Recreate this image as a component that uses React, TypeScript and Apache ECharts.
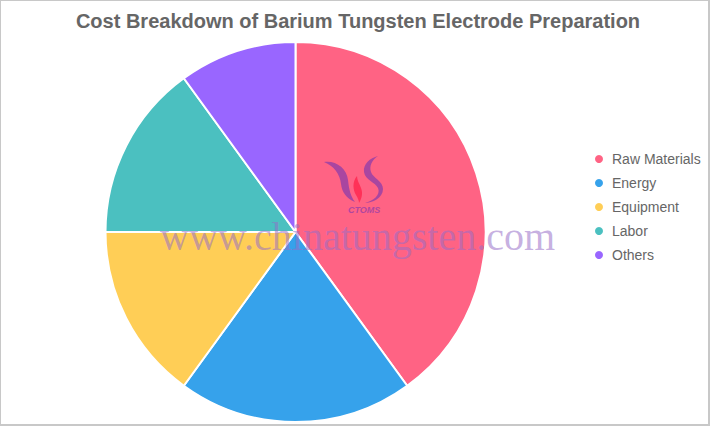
import React, { useEffect, useRef } from 'react';
import * as echarts from 'echarts';

const categories = ['Raw Materials', 'Energy', 'Equipment', 'Labor', 'Others'];
const shares = [40, 20, 15, 15, 10];
const colors = ['#FF6384', '#36A2EB', '#FFCE56', '#4BC0C0', '#9966FF'];

// watermark logo outlines (local coords)
const logoLeft = 'M9,12 C20,10 32,18 33,30 C34,40 36,47 40,52 C31,48 27,42 26,34 C25,24 19,16 9,12 Z';
const logoRight =
  'M63,6 C55,8 48,14 49,22 C50,30 60,32 63,38 C66,45 58,51 50,53 C57,53 68,48 68,39 C68,31 58,28 56,22 C54,16 57,10 63,6 Z';
const logoFlame = 'M42,26 C37,32 38,40 41,45 C43,48 44,51 44,53 C47,48 48,43 46,38 C44,33 42,30 42,26 Z';

echarts.graphic.registerShape('logoLeft', echarts.graphic.extendPath(logoLeft, {}));
echarts.graphic.registerShape('logoRight', echarts.graphic.extendPath(logoRight, {}));
echarts.graphic.registerShape('logoFlame', echarts.graphic.extendPath(logoFlame, {}));

const App: React.FC = () => {
  const chartRef = useRef<HTMLDivElement>(null);

  useEffect(() => {
    document.body.style.margin = '0';
    if (!chartRef.current) return;
    const chart = echarts.init(chartRef.current, null, { renderer: 'svg' });

    const option: echarts.EChartsOption = {
      animation: false,
      backgroundColor: '#fff',
      title: {
        text: 'Cost Breakdown of Barium Tungsten Electrode Preparation',
        left: 353,
        top: 6,
        textAlign: 'center',
        textStyle: {
          fontFamily: 'Liberation Sans, Arial, sans-serif',
          fontSize: 20,
          fontWeight: 'bold',
          color: '#666',
        },
      },
      legend: {
        orient: 'vertical',
        left: 588,
        top: 146,
        icon: 'circle',
        itemWidth: 10,
        itemHeight: 10,
        itemGap: 8,
        textStyle: {
          fontFamily: 'Liberation Sans, Arial, sans-serif',
          fontSize: 14,
          lineHeight: 16,
          color: '#666',
          padding: [0, 0, 0, 3],
        },
        data: categories,
      },
      graphic: [
        { type: 'logoLeft', x: 315, y: 150, z: 100, style: { fill: 'rgba(140, 60, 170, 0.75)' } } as any,
        { type: 'logoRight', x: 315, y: 150, z: 100, style: { fill: 'rgba(140, 60, 170, 0.75)' } } as any,
        { type: 'logoFlame', x: 315, y: 150, z: 100, style: { fill: 'rgba(255, 40, 80, 0.85)' } } as any,
        {
          type: 'text',
          x: 348,
          y: 205,
          z: 100,
          style: {
            text: 'CTOMS',
            font: 'italic bold 9px "Liberation Sans", Arial, sans-serif',
            fill: 'rgba(150, 60, 170, 0.75)',
          },
        },
        {
          type: 'text',
          left: 160,
          top: 216,
          z: 100,
          style: {
            text: 'www.chinatungsten.com',
            font: '40px "Liberation Serif", "Times New Roman", serif',
            fill: 'rgba(150, 110, 200, 0.55)',
          },
        },
      ],
      series: [
        {
          type: 'pie',
          center: [295.5, 232],
          radius: [0, 190],
          startAngle: 90,
          clockwise: true,
          label: { show: false },
          labelLine: { show: false },
          emphasis: { disabled: true },
          itemStyle: {
            borderColor: '#fff',
            borderWidth: 2,
          },
          data: categories.map((name, i) => ({
            name,
            value: shares[i],
            itemStyle: { color: colors[i] },
          })),
        },
      ],
    };

    chart.setOption(option);

    return () => {
      chart.dispose();
    };
  }, []);

  return (
    <div
      style={{
        width: 710,
        height: 426,
        boxSizing: 'border-box',
        borderTop: '1px solid #c8c8c8',
        borderLeft: '1px solid #c8c8c8',
        borderRight: '2px solid #c8c8c8',
        borderBottom: '2px solid #c8c8c8',
        overflow: 'hidden',
      }}
    >
      <div ref={chartRef} style={{ width: 707, height: 423, marginLeft: -1, marginTop: -1 }} />
    </div>
  );
};

export default App;
